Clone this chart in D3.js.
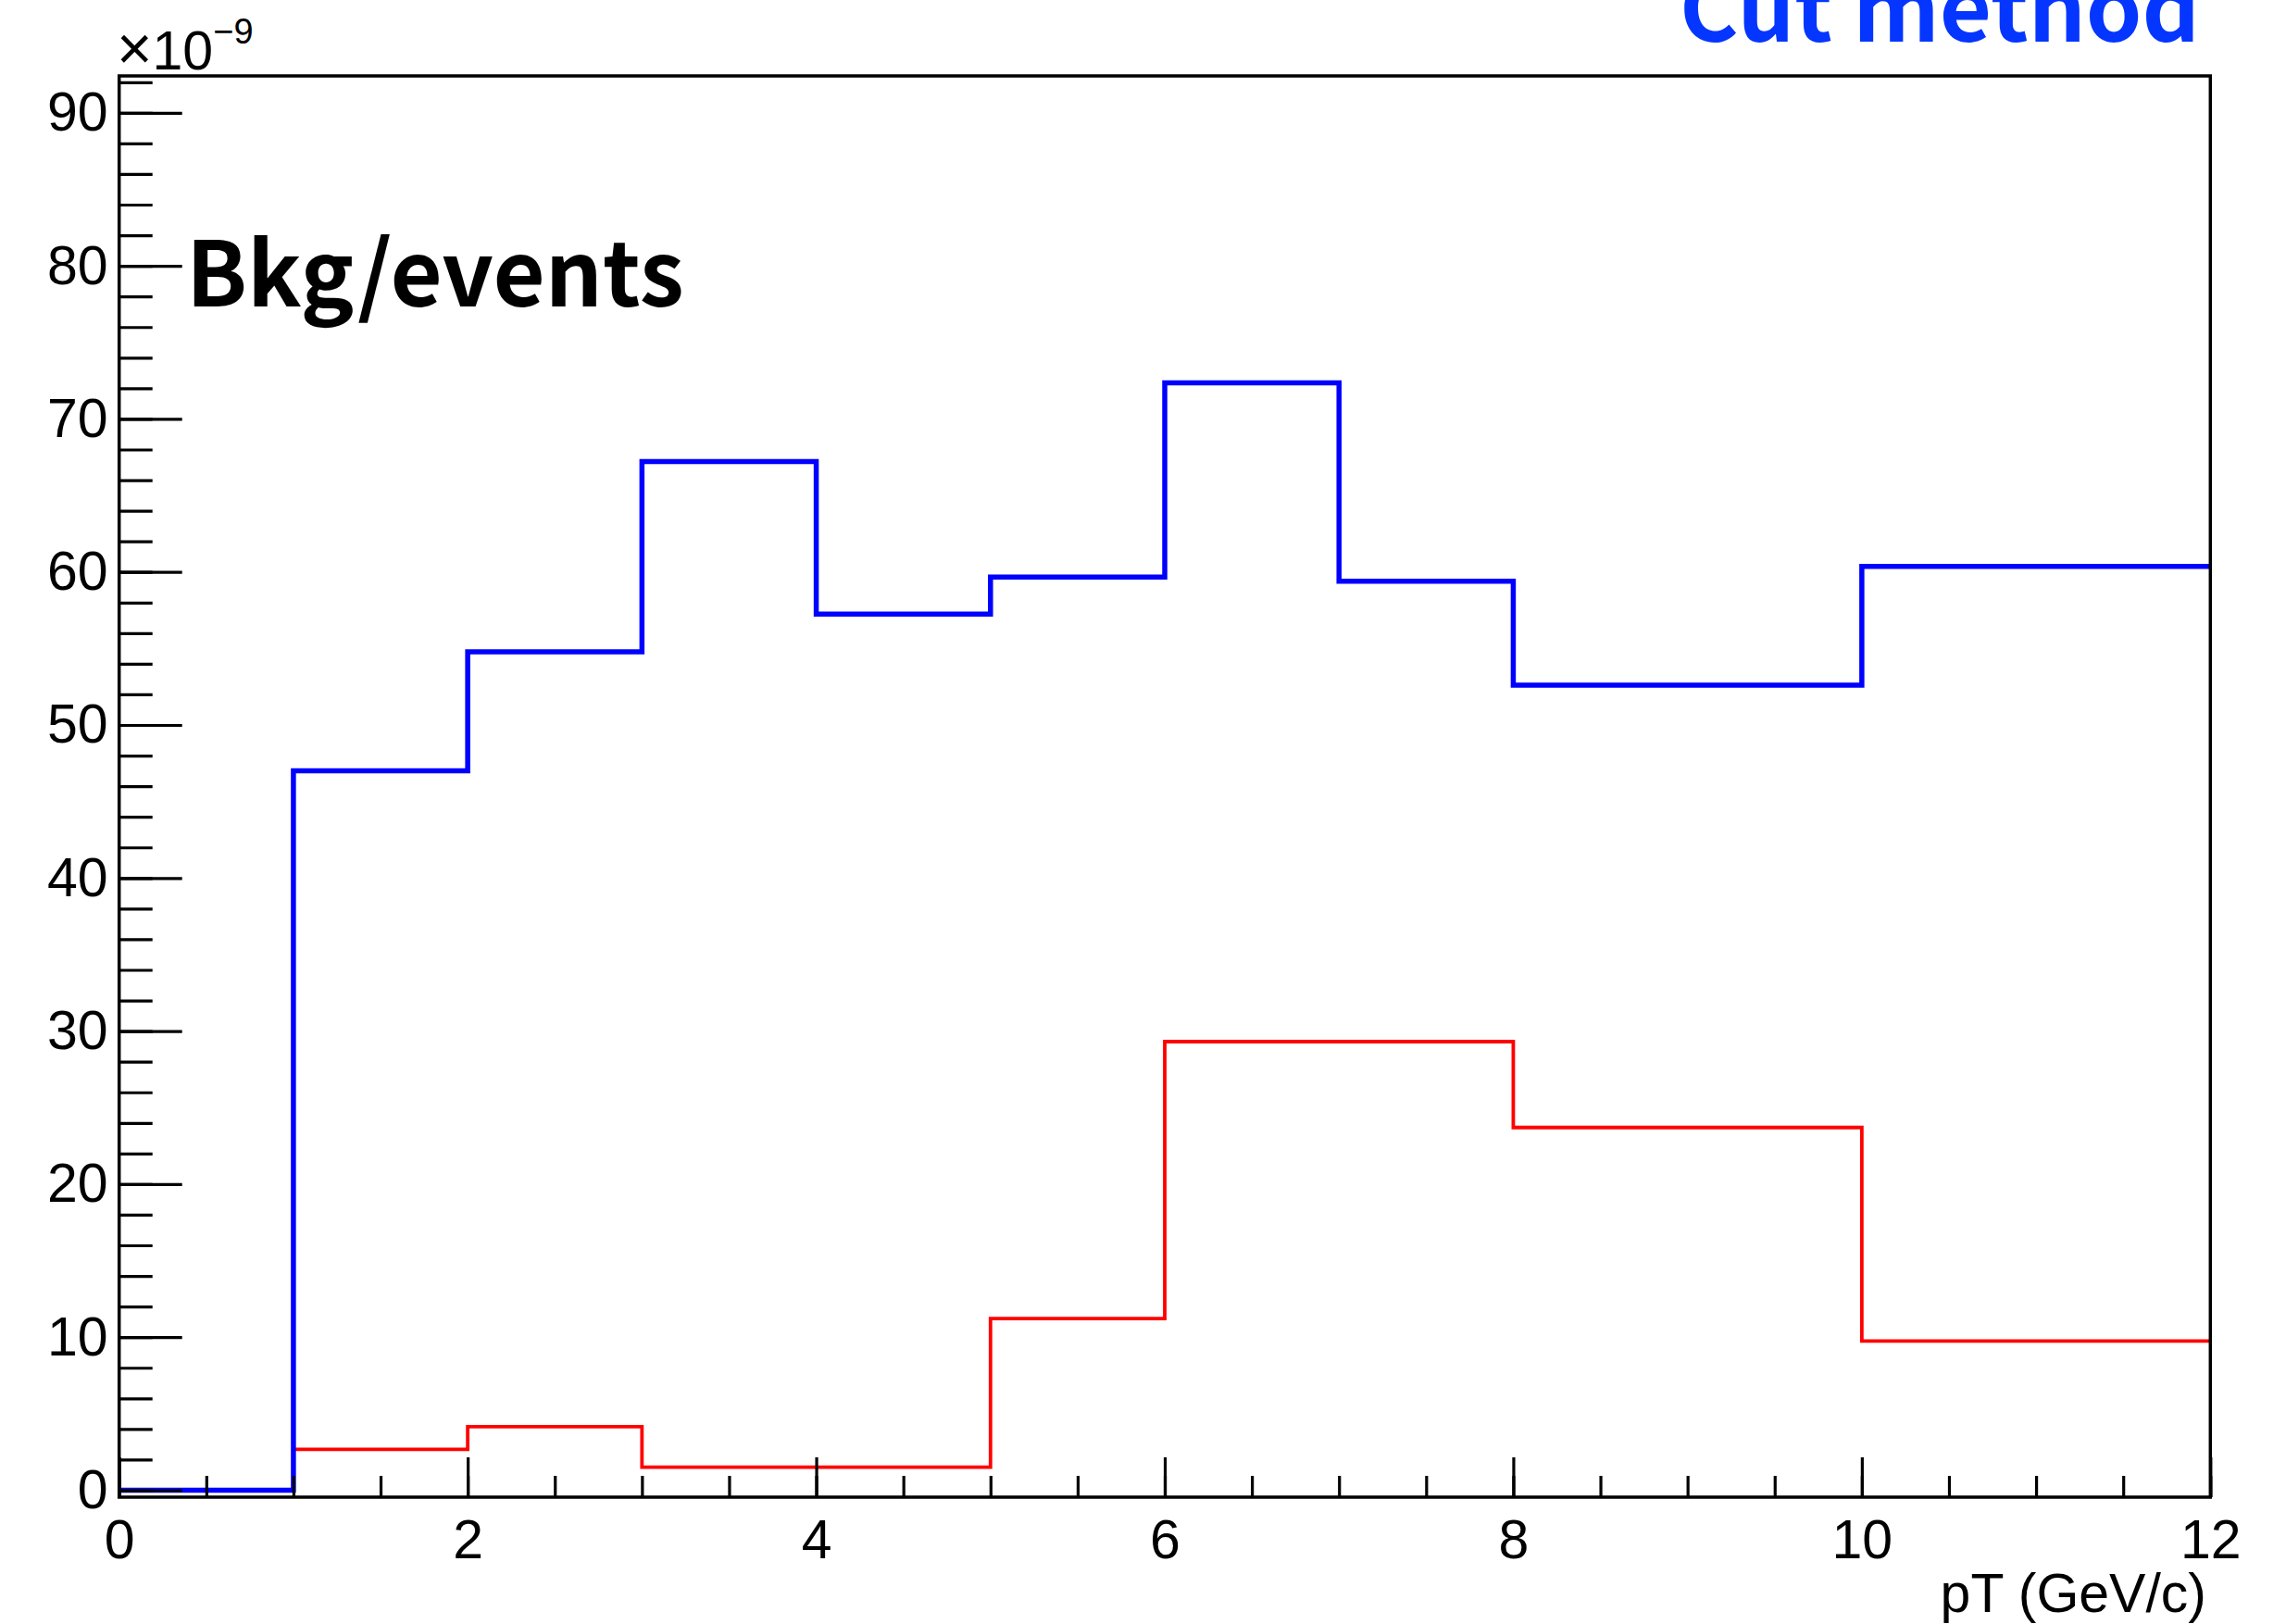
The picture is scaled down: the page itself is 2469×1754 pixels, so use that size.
<!DOCTYPE html>
<html>
<head>
<meta charset="utf-8">
<script src="https://cdn.jsdelivr.net/npm/d3@7"></script>
<style>
  html, body { margin: 0; padding: 0; background: #ffffff; }
  svg { display: block; }
  .tick text { font-family: "Liberation Sans", Arial, sans-serif; font-size: 59px; fill: #000; }
</style>
</head>
<body>
<svg id="chart" width="2469" height="1754"></svg>
<script>
// Bin edges in pT (GeV/c); the last two bins are 2 GeV wide
const binEdges = [0, 1, 2, 3, 4, 5, 6, 7, 8, 10, 12];
// Background per event (units of 1e-9), one value per bin
const bkgBlue = [0, 47.0, 54.78, 67.22, 57.24, 59.66, 72.36, 59.40, 52.6, 60.36];
const bkgRed  = [0, 2.67, 4.15, 1.5, 1.5, 11.22, 29.31, 29.31, 23.70, 9.75];
// Axis ticks
const xMajorTicks = [0, 2, 4, 6, 8, 10, 12];
const xMinorTicks = d3.range(0, 12.001, 0.5);
const yMajorTicks = [0, 10, 20, 30, 40, 50, 60, 70, 80, 90];
const yMinorTicks = d3.range(0, 92.001, 2);
const yDomain = [-0.454, 92.41];
const xDomain = [0, 12];

const frame = { left: 128.7, right: 2387.3, top: 82, bottom: 1617 };

const svg = d3.select("#chart");

const x = d3.scaleLinear().domain(xDomain).range([frame.left, frame.right]);
const y = d3.scaleLinear().domain(yDomain).range([frame.bottom, frame.top]);

// Histogram outline: one point per bin plus the closing edge
function stepPoints(values) {
  const pts = values.map((v, i) => [binEdges[i], v]);
  pts.push([binEdges[binEdges.length - 1], values[values.length - 1]]);
  return pts;
}
const stepLine = d3.line()
  .x(d => x(d[0]))
  .y(d => y(d[1]))
  .curve(d3.curveStepAfter);

svg.append("path")
  .attr("d", stepLine(stepPoints(bkgRed)))
  .attr("fill", "none")
  .attr("stroke", "#ff0000")
  .attr("stroke-width", 3.8)
  .attr("stroke-linejoin", "miter");

svg.append("path")
  .attr("d", stepLine(stepPoints(bkgBlue)))
  .attr("fill", "none")
  .attr("stroke", "#0000ff")
  .attr("stroke-width", 5.5)
  .attr("stroke-linejoin", "miter");

// X axis: ticks point up into the frame
const xMinor = svg.append("g")
  .attr("transform", `translate(0,${frame.bottom})`)
  .call(d3.axisBottom(x).tickValues(xMinorTicks).tickSize(-23).tickFormat(""));
const xMajor = svg.append("g")
  .attr("transform", `translate(0,${frame.bottom})`)
  .call(d3.axisBottom(x).tickValues(xMajorTicks).tickSize(-43).tickPadding(24).tickFormat(d3.format("d")));

// Y axis: ticks point right into the frame
const yMinor = svg.append("g")
  .attr("transform", `translate(${frame.left},0)`)
  .call(d3.axisLeft(y).tickValues(yMinorTicks).tickSize(-36).tickFormat(""));
const yMajor = svg.append("g")
  .attr("transform", `translate(${frame.left},0)`)
  .call(d3.axisLeft(y).tickValues(yMajorTicks).tickSize(-68).tickPadding(12).tickFormat(d3.format("d")));

[xMinor, xMajor, yMinor, yMajor].forEach(g => {
  g.select(".domain").remove();
  g.selectAll(".tick line").attr("stroke", "#000").attr("stroke-width", 3.2);
});

// Frame
svg.append("rect")
  .attr("x", frame.left).attr("y", frame.top)
  .attr("width", frame.right - frame.left)
  .attr("height", frame.bottom - frame.top)
  .attr("fill", "none")
  .attr("stroke", "#000")
  .attr("stroke-width", 3.5);

// Exponent label above the y axis
const expo = svg.append("text")
  .attr("x", 126).attr("y", 75)
  .attr("font-family", "Liberation Sans, Arial, sans-serif")
  .attr("font-size", 59)
  .attr("fill", "#000");
expo.append("tspan").attr("font-size", 66).text("\u00d7");
expo.append("tspan").text("10");
expo.append("tspan").attr("font-size", 38).attr("dy", -28).text("\u22129");

// X axis title
svg.append("text")
  .attr("x", 2383).attr("y", 1741)
  .attr("text-anchor", "end")
  .attr("font-family", "Liberation Sans, Arial, sans-serif")
  .attr("font-size", 59)
  .attr("fill", "#000")
  .text("pT (GeV/c)");

// Annotations
svg.append("text")
  .attr("x", 201).attr("y", 331)
  .attr("font-family", "'Noto Sans CJK KR', 'Noto Sans', sans-serif")
  .attr("font-weight", "bold")
  .attr("font-size", 97)
  .attr("fill", "#000")
  .text("Bkg/events");

svg.append("text")
  .attr("x", 2376).attr("y", 45)
  .attr("text-anchor", "end")
  .attr("font-family", "'Noto Sans CJK KR', 'Noto Sans', sans-serif")
  .attr("font-weight", "bold")
  .attr("font-size", 97)
  .attr("fill", "#0536ff")
  .text("Cut method");
</script>
</body>
</html>
